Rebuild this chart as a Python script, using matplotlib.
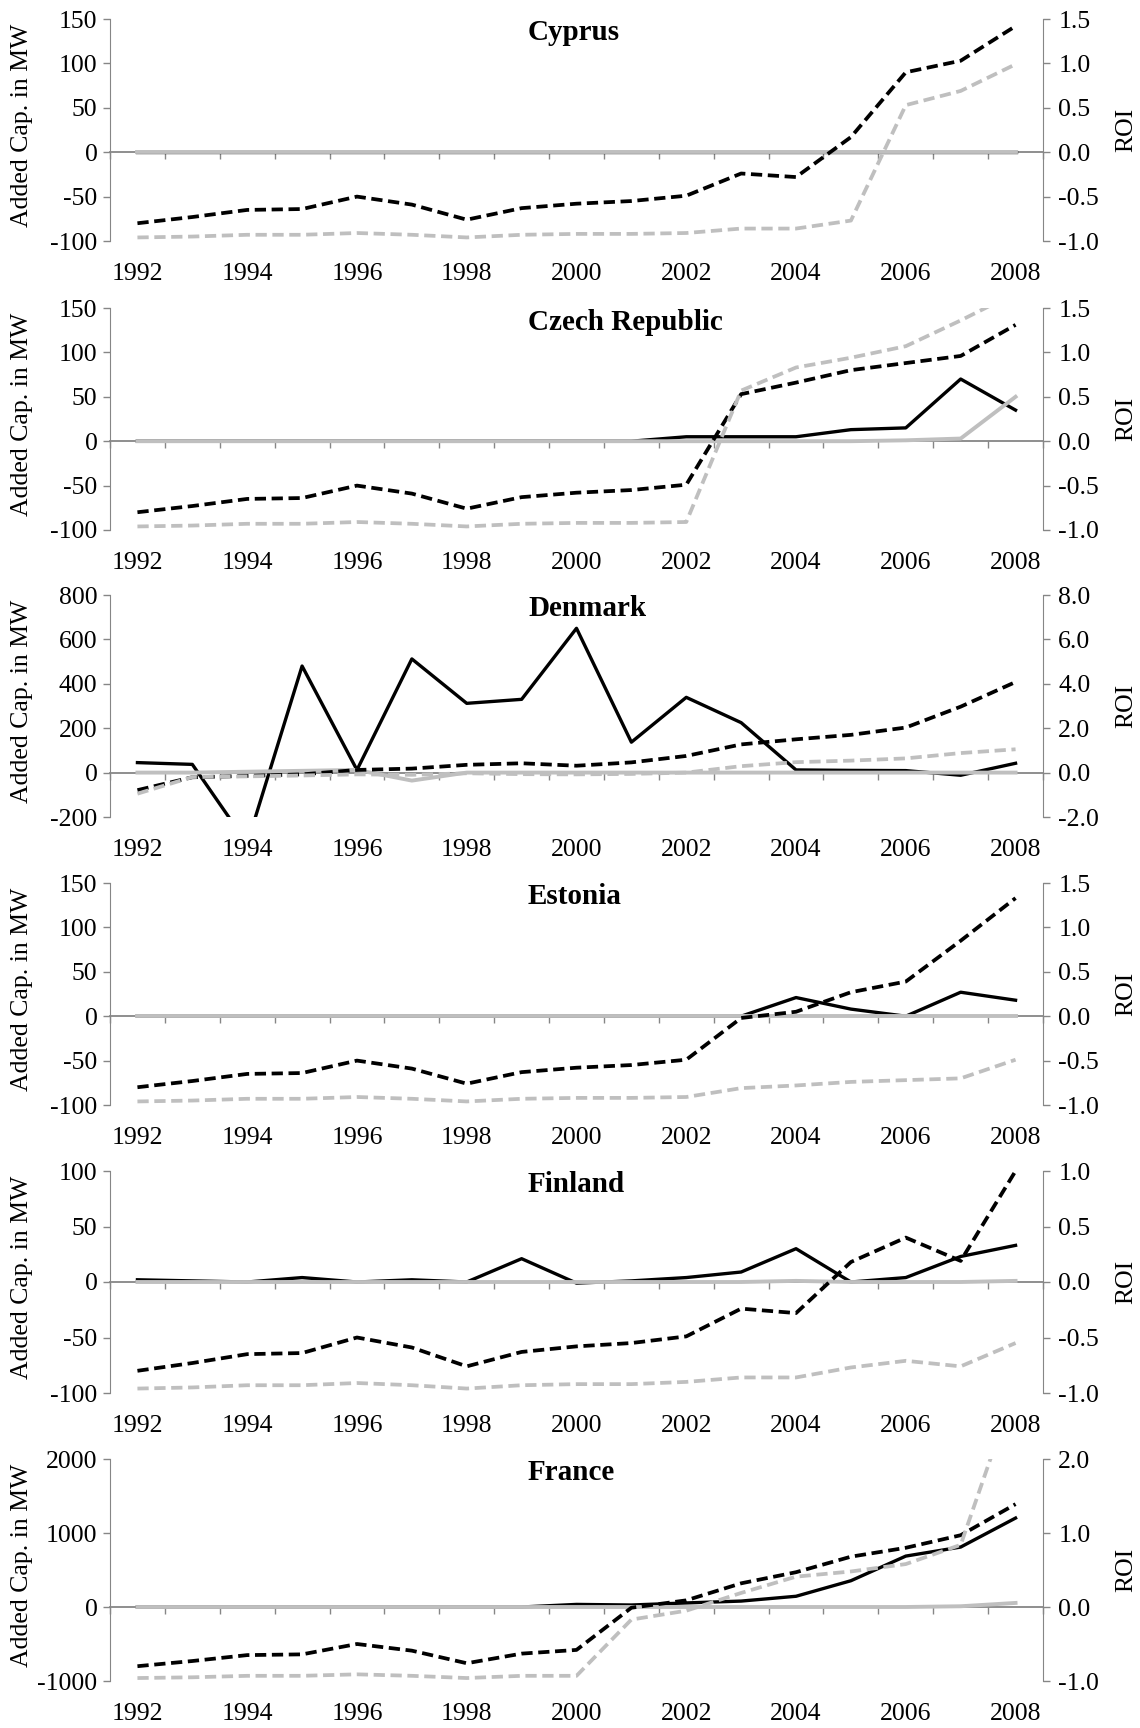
import numpy as np
import matplotlib.pyplot as plt
from matplotlib.ticker import MultipleLocator, FormatStrFormatter

plt.rcParams['font.family'] = ['Liberation Serif', 'DejaVu Serif']
plt.rcParams['axes.unicode_minus'] = False

# 年份
years = [1992, 1993, 1994, 1995, 1996, 1997, 1998, 1999, 2000,
         2001, 2002, 2003, 2004, 2005, 2006, 2007, 2008]
year_labels = [1992, 1994, 1996, 1998, 2000, 2002, 2004, 2006, 2008]

# Cyprus
cyprus_cap = [0, 0, 0, 0, 0, 0, 0, 0, 0, 0, 0, 0, 0, 0, 0, 0, 0]
cyprus_cap2 = [0, 0, 0, 0, 0, 0, 0, 0, 0, 0, 0, 0, 0, 0, 0, 0, 0]
cyprus_roi = [-0.80, -0.73, -0.65, -0.64, -0.50, -0.59, -0.76, -0.63, -0.58,
              -0.55, -0.49, -0.24, -0.28, 0.17, 0.90, 1.03, 1.42]
cyprus_roi2 = [-0.96, -0.95, -0.93, -0.93, -0.91, -0.93, -0.96, -0.93, -0.92,
               -0.92, -0.91, -0.86, -0.86, -0.77, 0.53, 0.69, 0.99]

# Czech Republic
czech_cap = [0, 0, 0, 0, 0, 0, 0, 0, 0, 0, 5, 5, 5, 13, 15, 70, 35]
czech_cap2 = [0, 0, 0, 0, 0, 0, 0, 0, 0, 0, 0, 0, 0, 0, 1, 3, 50]
czech_roi = [-0.80, -0.73, -0.65, -0.64, -0.50, -0.59, -0.76, -0.63, -0.58,
             -0.55, -0.49, 0.53, 0.66, 0.80, 0.88, 0.96, 1.31]
czech_roi2 = [-0.96, -0.95, -0.93, -0.93, -0.91, -0.93, -0.96, -0.93, -0.92,
              -0.92, -0.91, 0.57, 0.83, 0.94, 1.07, 1.36, 1.67]

# Denmark
denmark_cap = [45, 37, -320, 480, 12, 512, 312, 330, 650,
               137, 339, 225, 12, 10, 9, -12, 42]
denmark_cap2 = [0, 0, 4, 8, 12, -36, 0, 0, 0, 0, 0, 0, 0, 0, 0, 0, 0]
denmark_roi = [-0.79, -0.21, -0.15, -0.08, 0.12, 0.18, 0.35, 0.42, 0.31,
               0.46, 0.75, 1.27, 1.50, 1.70, 2.03, 2.97, 4.08]
denmark_roi2 = [-0.95, -0.20, -0.17, -0.13, -0.08, -0.10, -0.03, -0.07, -0.08,
                -0.06, 0.00, 0.29, 0.47, 0.54, 0.64, 0.88, 1.05]

# Estonia
estonia_cap = [0, 0, 0, 0, 0, 0, 0, 0, 0, 0, 0, 0, 21, 8, 0, 27, 18]
estonia_cap2 = [0, 0, 0, 0, 0, 0, 0, 0, 0, 0, 0, 0, 0, 0, 0, 0, 0]
estonia_roi = [-0.80, -0.73, -0.65, -0.64, -0.50, -0.59, -0.76, -0.63, -0.58,
               -0.55, -0.49, -0.02, 0.05, 0.27, 0.39, 0.85, 1.33]
estonia_roi2 = [-0.96, -0.95, -0.93, -0.93, -0.91, -0.93, -0.96, -0.93, -0.92,
                -0.92, -0.91, -0.81, -0.78, -0.74, -0.72, -0.70, -0.49]

# Finland
finland_cap = [2, 1, 0, 4, 0, 2, 0, 21, -1, 1, 4, 9, 30, 0, 4, 23, 33]
finland_cap2 = [0, 0, 0, 0, 0, 0, 0, 0, 0, 0, 0, 0, 1, 0, 0, 0, 1]
finland_roi = [-0.80, -0.73, -0.65, -0.64, -0.50, -0.59, -0.76, -0.63, -0.58,
               -0.55, -0.49, -0.24, -0.28, 0.18, 0.40, 0.19, 1.00]
finland_roi2 = [-0.96, -0.95, -0.93, -0.93, -0.91, -0.93, -0.96, -0.93, -0.92,
                -0.92, -0.90, -0.86, -0.86, -0.77, -0.71, -0.76, -0.55]

# France
france_cap = [0, 0, 0, 0, 0, 0, 0, 0, 35, 27, 55, 80, 145, 355, 688, 810, 1202]
france_cap2 = [0, 0, 0, 0, 0, 0, 0, 0, 0, 0, 0, 0, 0, 0, 0, 10, 55]
france_roi = [-0.80, -0.73, -0.65, -0.64, -0.50, -0.59, -0.76, -0.63, -0.58,
              -0.01, 0.09, 0.32, 0.47, 0.68, 0.80, 0.97, 1.39]
france_roi2 = [-0.96, -0.95, -0.93, -0.93, -0.91, -0.93, -0.96, -0.93, -0.93,
               -0.17, -0.05, 0.19, 0.41, 0.48, 0.58, 0.84, 2.98]

panels = [
    ('Cyprus', cyprus_cap, cyprus_cap2, cyprus_roi, cyprus_roi2, (-100, 150), 50, (-1.0, 1.5), 0.5),
    ('Czech Republic', czech_cap, czech_cap2, czech_roi, czech_roi2, (-100, 150), 50, (-1.0, 1.5), 0.5),
    ('Denmark', denmark_cap, denmark_cap2, denmark_roi, denmark_roi2, (-200, 800), 200, (-2.0, 8.0), 2.0),
    ('Estonia', estonia_cap, estonia_cap2, estonia_roi, estonia_roi2, (-100, 150), 50, (-1.0, 1.5), 0.5),
    ('Finland', finland_cap, finland_cap2, finland_roi, finland_roi2, (-100, 100), 50, (-1.0, 1.0), 0.5),
    ('France', france_cap, france_cap2, france_roi, france_roi2, (-1000, 2000), 1000, (-1.0, 2.0), 1.0),
]

axis_grey = '#868686'
light_grey = '#bfbfbf'

W, H = 1140, 1728
fig = plt.figure(figsize=(W / 100, H / 100), dpi=100)

tops = [19, 308, 595, 883, 1171, 1459]
ax_h = 222
x0, x1 = 110, 1043

for top, (name, cap, cap2, roi, roi2, ylim, ystep, rlim, rstep) in zip(tops, panels):
    ax = fig.add_axes([x0 / W, 1 - (top + ax_h) / H, (x1 - x0) / W, ax_h / H])
    ax2 = ax.twinx()

    # 装机容量（左轴）
    ax.plot(years, cap, color='black', lw=2.4, solid_joinstyle='round', zorder=3)
    ax.plot(years, cap2, color=light_grey, lw=2.8, solid_joinstyle='round', zorder=4)
    # ROI（右轴）
    ax2.plot(years, roi, color='black', lw=2.7, dashes=(3.0, 1.5))
    ax2.plot(years, roi2, color=light_grey, lw=2.7, dashes=(3.0, 1.5))

    ax.set_xlim(1991.5, 2008.5)
    ax.set_ylim(*ylim)
    ax2.set_ylim(*rlim)
    ax.yaxis.set_major_locator(MultipleLocator(ystep))
    ax2.yaxis.set_major_locator(MultipleLocator(rstep))
    ax2.yaxis.set_major_formatter(FormatStrFormatter('%.1f'))

    # 横轴在0处，刻度在年份之间
    ax.spines['bottom'].set_position(('data', 0))
    ax.spines['bottom'].set_color(axis_grey)
    ax.spines['bottom'].set_linewidth(1.3)
    ax.set_xticks(np.arange(1991.5, 2009, 1.0))
    ax.tick_params(axis='x', direction='out', length=5, width=1, color=axis_grey, labelbottom=False)

    for s in ['top', 'right']:
        ax.spines[s].set_visible(False)
    for s in ['top', 'left', 'bottom']:
        ax2.spines[s].set_visible(False)
    ax.spines['left'].set_color(axis_grey)
    ax2.spines['right'].set_color(axis_grey)

    ax.tick_params(axis='y', direction='out', length=5, width=1, color=axis_grey, labelsize=18.5, pad=4)
    ax2.tick_params(axis='y', direction='out', length=5, width=1, color=axis_grey, labelsize=18.5, pad=6)

    # 年份标签放在底部
    sec = ax.secondary_xaxis('bottom')
    sec.set_xticks(year_labels)
    sec.tick_params(length=0, pad=16, labelsize=18.5)
    sec.spines['bottom'].set_visible(False)

    ax.set_ylabel('Added Cap. in MW', fontsize=18.5)
    ax.yaxis.set_label_coords(-0.082, 0.52)
    ax2.set_ylabel('ROI', fontsize=18.5)
    ax2.yaxis.set_label_coords(1.078, 0.5)

    ax.text((528 - x0) / (x1 - x0), 1 - 14 / ax_h, name, transform=ax.transAxes,
            ha='left', va='center', fontsize=21, fontweight='bold')

plt.savefig('out.png', dpi=100)
